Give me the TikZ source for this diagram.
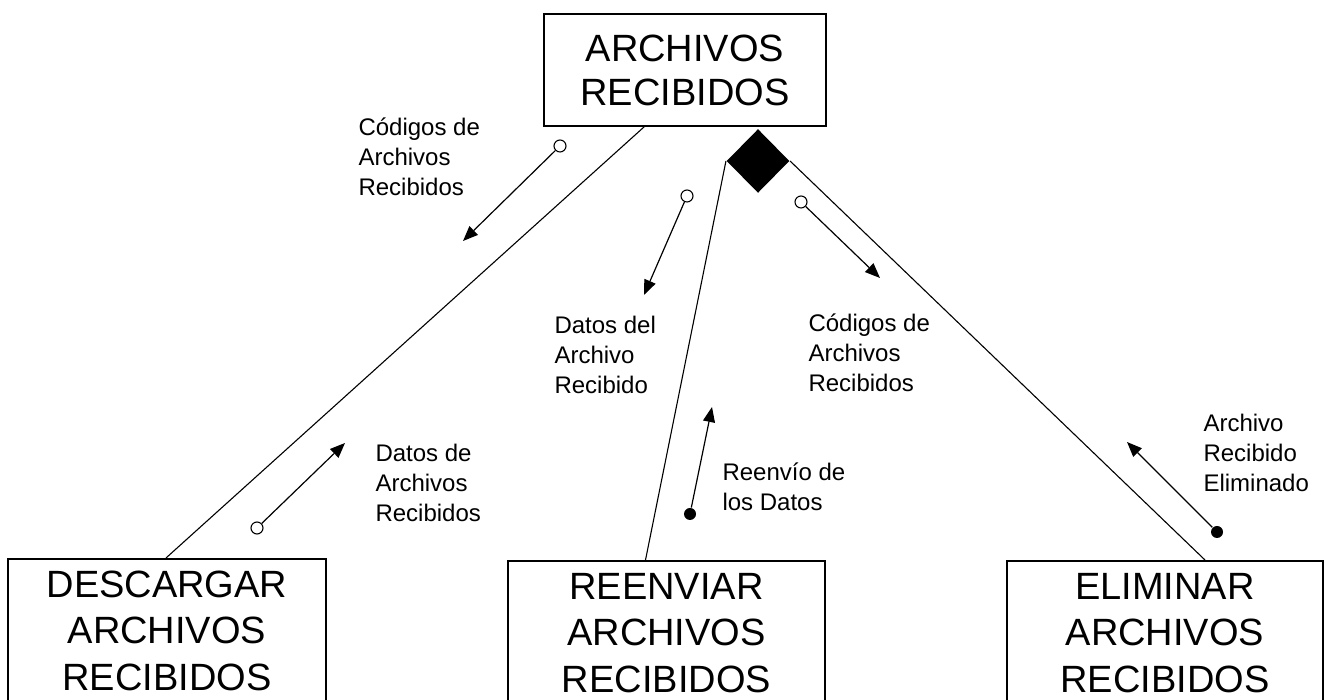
\documentclass[tikz,border=0pt]{standalone}
\usepackage{fontspec}
\setmainfont{Liberation Sans}
\usetikzlibrary{shapes.geometric, arrows.meta}

\begin{document}
\begin{tikzpicture}[x=1pt, y=1pt, line width=1.1pt,
  box/.style={draw, line width=1.7pt, align=center, inner sep=0pt, font=\fontsize{38}{44}\selectfont},
  tallbox/.style={box, anchor=north, minimum height=144pt, font=\fontsize{38}{46.5}\selectfont},
  lbl/.style={anchor=north west, align=left, inner sep=0pt, font=\fontsize{24}{30}\selectfont},
  flow/.style={-{Triangle[length=15pt, width=12pt]}, line width=1.2pt},
  ring/.style={circle, draw, fill=white, line width=1.1pt, minimum size=12pt, inner sep=0pt},
  dot/.style={circle, fill=black, minimum size=12pt, inner sep=0pt}]
  \useasboundingbox (0,0) rectangle (1325,700);
  % modules
  \node[box, minimum width=282pt, minimum height=112pt] (recib) at (685,630) {ARCHIVOS\\RECIBIDOS};
  \node[tallbox, minimum width=318pt] (desc) at (167,142) {DESCARGAR\\ARCHIVOS\\RECIBIDOS};
  \node[tallbox, minimum width=317pt] (reen) at (666.5,140) {REENVIAR\\ARCHIVOS\\RECIBIDOS};
  \node[tallbox, minimum width=316pt] (elim) at (1165,140) {ELIMINAR\\ARCHIVOS\\RECIBIDOS};
  \node[diamond, fill=black, minimum width=63pt, minimum height=64pt, inner sep=0pt] (sel) at (758,539) {};

  % calls
  \draw ([xshift=101pt]recib.south west) -- ([xshift=-1pt]desc.north);
  \draw (sel.west) -- ([xshift=-21pt]reen.north);
  \draw (sel.east) -- ([xshift=40pt]elim.north);

  % couples
  \node[ring] (c1) at (560,554) {};
  \coordinate (c1t) at (463,459);
  \draw[flow] (c1) -- (c1t);
  \node[lbl] (l1) at (358,583) {Códigos de\\Archivos\\Recibidos};

  \node[ring] (c2) at (257,172) {};
  \coordinate (c2t) at (345,257);
  \draw[flow] (c2) -- (c2t);
  \node[lbl] (l2) at (375,256) {Datos de\\Archivos\\Recibidos};

  \node[ring] (c3) at (687,504) {};
  \coordinate (c3t) at (644,405);
  \draw[flow] (c3) -- (c3t);
  \node[lbl] (l3) at (554,384) {Datos del\\Archivo\\Recibido};

  \node[dot] (c4) at (690,186) {};
  \coordinate (c4t) at (712,293);
  \draw[flow] (c4) -- (c4t);
  \node[lbl] (l4) at (722,238) {Reenvío de\\los Datos};

  \node[ring] (c5) at (801,498) {};
  \coordinate (c5t) at (880,422);
  \draw[flow] (c5) -- (c5t);
  \node[lbl] (l5) at (808,387) {Códigos de\\Archivos\\Recibidos};

  \node[dot] (c6) at (1217,168) {};
  \coordinate (c6t) at (1127,258);
  \draw[flow] (c6) -- (c6t);
  \node[lbl] (l6) at (1203,286) {Archivo\\Recibido\\Eliminado};
\end{tikzpicture}
\end{document}
